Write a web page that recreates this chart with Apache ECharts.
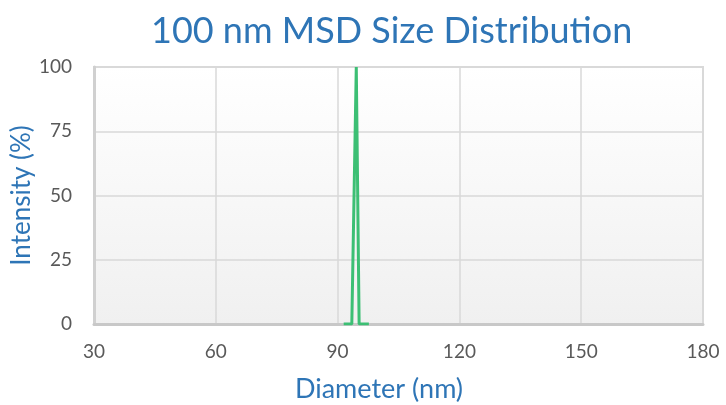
<!DOCTYPE html>
<html><head><meta charset="utf-8">
<script src="https://cdn.jsdelivr.net/npm/echarts@6/dist/echarts.min.js"></script>
<style>html,body{margin:0;padding:0;background:#fff}#c{width:726px;height:405px}</style>
</head><body><div id="c"></div>
<script>
var titleText = "100 nm MSD Size Distribution";
var xName = "Diameter (nm)";
var yName = "Intensity (%)";
var diameters = [91.5, 93.5, 94.6, 95.3, 97.7];
var intensities = [0, 0, 100, 0, 0];
var xTicks = [30, 60, 90, 120, 150, 180];
var yTicks = [0, 25, 50, 75, 100];

var chart = echarts.init(document.getElementById('c'), null, {renderer: 'canvas'});
var font = 'Lato, "Open Sans", sans-serif';
chart.setOption({
  animation: false,
  title: {text: titleText, left: 146, top: 8,
    textStyle: {color: '#2e75b6', fontSize: 36, fontWeight: 'normal', fontFamily: font}},
  grid: {left: 94, right: 23, top: 67, bottom: 81, show: true, borderColor: '#d9d9d9', borderWidth: 2,
    outerBoundsMode: 'none', containLabel: false,
    backgroundColor: new echarts.graphic.LinearGradient(0, 0, 0, 1, [{offset: 0, color: '#ffffff'}, {offset: 1, color: '#f0f0f0'}])},
  xAxis: {type: 'value', min: xTicks[0], max: xTicks[xTicks.length - 1], interval: 30,
    name: xName, nameLocation: 'middle', nameGap: 52, nameMoveOverlap: false,
    nameTextStyle: {color: '#2e75b6', fontSize: 27, fontFamily: font, padding: [0, 39, 0, 0]},
    axisLine: {show: true, lineStyle: {color: '#c8c8c8', width: 3}},
    axisTick: {show: false},
    axisLabel: {color: '#595959', fontSize: 19, margin: 18, fontFamily: font},
    splitLine: {show: true, lineStyle: {color: '#d9d9d9', width: 1.5}}},
  yAxis: {type: 'value', min: yTicks[0], max: yTicks[yTicks.length - 1], interval: 25,
    name: yName, nameLocation: 'middle', nameGap: 59, nameMoveOverlap: false,
    nameTextStyle: {color: '#2e75b6', fontSize: 26, fontFamily: font},
    axisLine: {show: true, lineStyle: {color: '#d0d0d0', width: 3}},
    axisTick: {show: false},
    axisLabel: {color: '#595959', fontSize: 19, margin: 22, fontFamily: font},
    splitLine: {show: true, lineStyle: {color: '#d9d9d9', width: 1.5}}},
  series: [{type: 'line', data: diameters.map(function (d, i) { return [d, intensities[i]]; }),
    showSymbol: false, lineStyle: {color: '#3cbf74', width: 3}, itemStyle: {color: '#3cbf74'}}]
});
</script></body></html>
